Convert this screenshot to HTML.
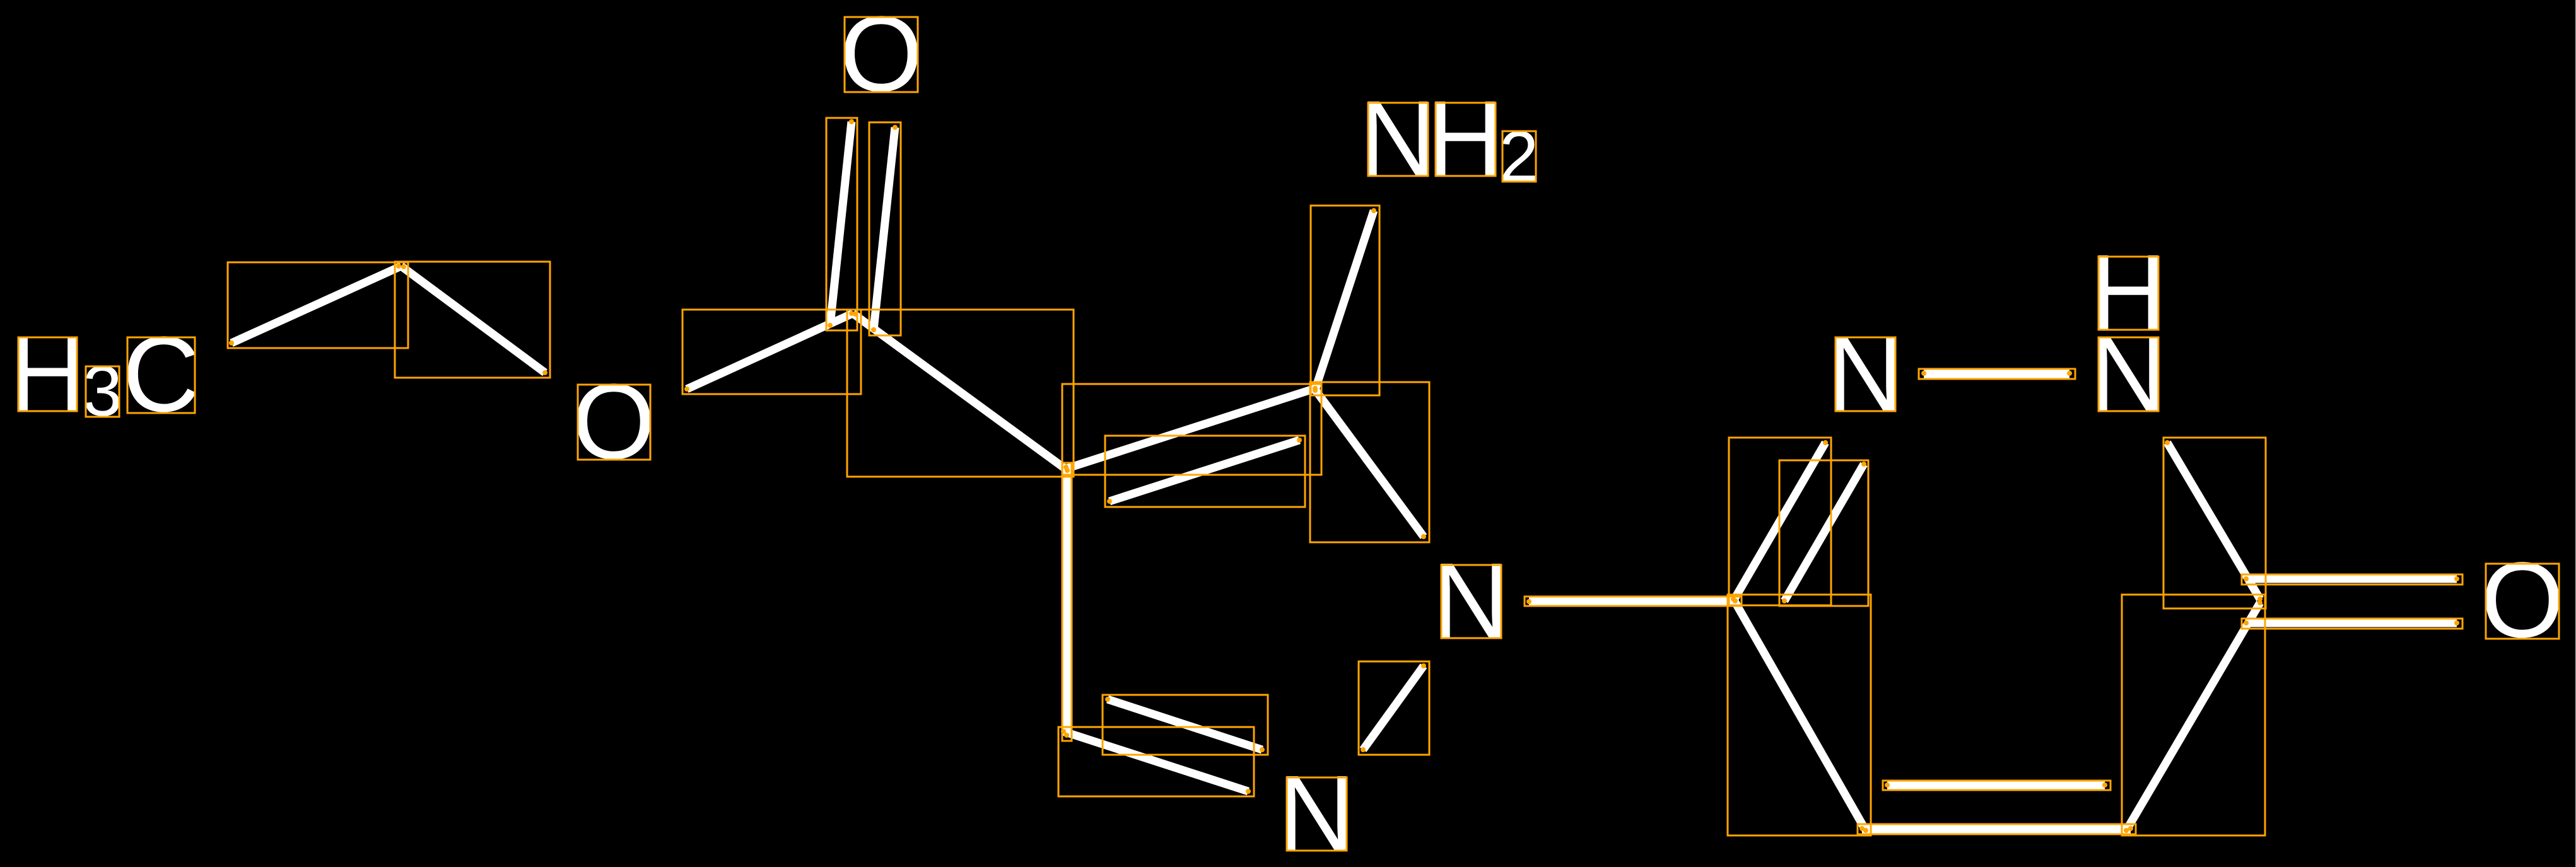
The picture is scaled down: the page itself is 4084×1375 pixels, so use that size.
<!DOCTYPE html>
<html>
<head>
<meta charset="utf-8">
<style>
html,body{margin:0;padding:0;background:#000;width:4084px;height:1375px;overflow:hidden}
svg{display:block}
text{font-family:"Liberation Sans",sans-serif;fill:#fff;text-anchor:middle}
.a{font-size:170px}
.b{font-size:113px}
.l line{stroke:#fff;stroke-width:13}
.r rect{fill:none;stroke:#ffa500;stroke-width:3}
.d circle{fill:#ffa500}
</style>
</head>
<body>
<svg xmlns="http://www.w3.org/2000/svg" width="4084" height="1375" viewBox="0 0 4084 1375">
<rect width="4084" height="1375" fill="#000"/>
<rect x="4083" y="0" width="1" height="1375" fill="#bbb"/>
<g>
<text class="a" x="75.5" y="651">H</text>
<text class="b" x="162.5" y="659">3</text>
<text class="a" x="255.5" y="652">C</text>
<text class="a" x="973" y="727">O</text>
<text class="a" x="1397" y="144">O</text>
<text class="a" x="2216" y="278">N</text>
<text class="a" x="2323" y="278">H</text>
<text class="b" x="2408" y="287">2</text>
<text class="a" x="2332" y="1011">N</text>
<text class="a" x="2087" y="1348">N</text>
<text class="a" x="2957" y="651">N</text>
<text class="a" x="3374" y="522">H</text>
<text class="a" x="3374" y="651">N</text>
<text class="a" x="3999" y="1010">O</text>
</g>
<g class="l">
<line x1="367" y1="544" x2="636" y2="422"/>
<line x1="636" y1="422" x2="864" y2="591"/>
<line x1="1089" y1="617" x2="1352" y2="497"/>
<line x1="1350" y1="193" x2="1316" y2="516"/>
<line x1="1419" y1="202" x2="1385" y2="523"/>
<line x1="1352" y1="497" x2="1691" y2="745"/>
<line x1="1691" y1="743" x2="2085" y2="616"/>
<line x1="1759" y1="795" x2="2060" y2="698"/>
<line x1="2178" y1="334" x2="2085" y2="618"/>
<line x1="2085" y1="618" x2="2257" y2="851"/>
<line x1="1691" y1="743" x2="1691" y2="1166"/>
<line x1="1686" y1="1160" x2="1979" y2="1255"/>
<line x1="1756" y1="1109" x2="2001" y2="1189"/>
<line x1="2257" y1="1056" x2="2161" y2="1189"/>
<line x1="2424" y1="954" x2="2751" y2="954"/>
<line x1="2894" y1="702" x2="2748" y2="953"/>
<line x1="2955" y1="736" x2="2829" y2="953"/>
<line x1="2748" y1="950" x2="2958" y2="1317"/>
<line x1="2952" y1="1315" x2="3378" y2="1315"/>
<line x1="2992" y1="1245" x2="3337" y2="1245"/>
<line x1="3371" y1="1317" x2="3583" y2="956"/>
<line x1="3436" y1="702" x2="3583" y2="950"/>
<line x1="3561" y1="918" x2="3895" y2="918"/>
<line x1="3561" y1="988" x2="3895" y2="988"/>
<line x1="3050" y1="593" x2="3281" y2="593"/>
</g>
<g class="r">
<rect x="29" y="535" width="93" height="117"/>
<rect x="136" y="581" width="53" height="80"/>
<rect x="202" y="535" width="107" height="120"/>
<rect x="916" y="610" width="115" height="119"/>
<rect x="1339" y="27" width="116" height="119"/>
<rect x="2169" y="163" width="95" height="116"/>
<rect x="2276" y="163" width="95" height="116"/>
<rect x="2382" y="208" width="53" height="80"/>
<rect x="2285" y="896" width="95" height="116"/>
<rect x="2040" y="1233" width="95" height="116"/>
<rect x="2910" y="535" width="95" height="117"/>
<rect x="3327" y="407" width="95" height="116"/>
<rect x="3327" y="535" width="95" height="117"/>
<rect x="3941" y="894" width="116" height="119"/>
<rect x="361" y="416" width="286" height="136"/>
<rect x="626" y="415" width="246" height="184"/>
<rect x="1082" y="491" width="283" height="134"/>
<rect x="1310" y="187" width="49" height="337"/>
<rect x="1378" y="194" width="50" height="338"/>
<rect x="1343" y="491" width="359" height="265"/>
<rect x="1684" y="609" width="411" height="144"/>
<rect x="1752" y="691" width="317" height="113"/>
<rect x="2078" y="326" width="109" height="301"/>
<rect x="2077" y="606" width="189" height="254"/>
<rect x="1684" y="734" width="15" height="441"/>
<rect x="1678" y="1153" width="310" height="110"/>
<rect x="1748" y="1102" width="262" height="95"/>
<rect x="2154" y="1049" width="112" height="148"/>
<rect x="2417" y="946" width="344" height="15"/>
<rect x="2741" y="694" width="162" height="266"/>
<rect x="2821" y="730" width="141" height="231"/>
<rect x="2739" y="943" width="227" height="382"/>
<rect x="2945" y="1307" width="441" height="16"/>
<rect x="2985" y="1238" width="361" height="15"/>
<rect x="3364" y="943" width="227" height="382"/>
<rect x="3430" y="694" width="162" height="271"/>
<rect x="3554" y="911" width="350" height="16"/>
<rect x="3554" y="981" width="350" height="16"/>
<rect x="3042" y="585" width="248" height="16"/>
</g>
<g class="d">
<circle cx="367" cy="544" r="4"/><circle cx="632" cy="422" r="4"/><circle cx="640" cy="423" r="4"/><circle cx="864" cy="591" r="4"/>
<circle cx="1089" cy="617" r="4"/><circle cx="1350" cy="497" r="4"/><circle cx="1356" cy="498" r="4"/>
<circle cx="1350" cy="193" r="4"/><circle cx="1316" cy="516" r="4"/><circle cx="1419" cy="202" r="4"/><circle cx="1385" cy="523" r="4"/>
<circle cx="1690" cy="741" r="4"/><circle cx="1692" cy="746" r="4"/><circle cx="2060" cy="698" r="4"/><circle cx="1759" cy="795" r="4"/>
<circle cx="2085" cy="616" r="4"/><circle cx="2085" cy="619" r="4"/><circle cx="2178" cy="334" r="4"/><circle cx="2257" cy="851" r="4"/>
<circle cx="1691" cy="1166" r="4"/><circle cx="1686" cy="1160" r="4"/><circle cx="1979" cy="1255" r="4"/><circle cx="1756" cy="1109" r="4"/><circle cx="2001" cy="1189" r="4"/>
<circle cx="2257" cy="1056" r="4"/><circle cx="2161" cy="1189" r="4"/><circle cx="2424" cy="954" r="4"/><circle cx="2751" cy="953" r="4"/><circle cx="2748" cy="950" r="4"/>
<circle cx="2894" cy="702" r="4"/><circle cx="2955" cy="736" r="4"/><circle cx="2829" cy="953" r="4"/>
<circle cx="2952" cy="1314" r="4"/><circle cx="2958" cy="1317" r="4"/><circle cx="3378" cy="1314" r="4"/><circle cx="3371" cy="1317" r="4"/>
<circle cx="2992" cy="1245" r="4"/><circle cx="3337" cy="1245" r="4"/>
<circle cx="3436" cy="702" r="4"/><circle cx="3583" cy="950" r="4"/><circle cx="3583" cy="956" r="4"/>
<circle cx="3561" cy="918" r="4"/><circle cx="3895" cy="918" r="4"/><circle cx="3561" cy="988" r="4"/><circle cx="3895" cy="988" r="4"/>
<circle cx="3050" cy="592" r="4"/><circle cx="3281" cy="592" r="4"/>
</g>
</svg>
</body>
</html>
